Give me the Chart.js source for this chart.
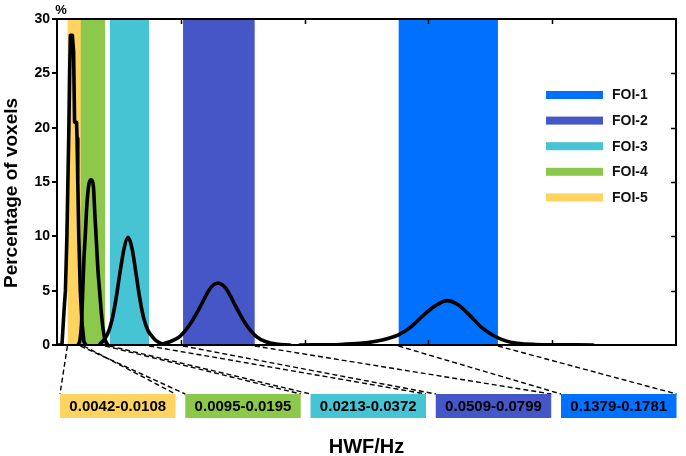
<!DOCTYPE html>
<html><head><meta charset="utf-8">
<script src="https://cdn.jsdelivr.net/npm/chart.js@4.4.0/dist/chart.umd.min.js"></script>
<style>html,body{margin:0;padding:0;background:#fff;}#wrap{width:686px;height:456px;}</style>
</head><body><div id="wrap"><canvas id="c" width="686" height="456"></canvas></div>
<script>
// ---- data ----
const bandLabels = ['FOI-1', 'FOI-2', 'FOI-3', 'FOI-4', 'FOI-5'];
const bandLow  = [0.1379, 0.0509, 0.0213, 0.0095, 0.0042];
const bandHigh = [0.1781, 0.0799, 0.0372, 0.0195, 0.0108];
const bandColors = ['#0070ff', '#4556c6', '#46c4d3', '#8cc84b', '#fed35f'];
const yTickValues = [0, 5, 10, 15, 20, 25, 30];
const xTickValues = [0, 0.05, 0.1, 0.15, 0.2, 0.25];

const foi1X = [0.0981, 0.1143, 0.1224, 0.1288, 0.1337, 0.1377, 0.1426, 0.1478, 0.1527, 0.1575, 0.1620, 0.1668, 0.1716, 0.1761, 0.1809, 0.1858, 0.1931, 0.2165];
const foi1Y = [0, 0.05, 0.15, 0.35, 0.6, 0.9, 1.6, 2.7, 3.6, 4.08, 3.7, 2.7, 1.6, 0.9, 0.4, 0.15, 0.05, 0];
const foi2X = [0.0416, 0.0456, 0.0497, 0.0537, 0.0578, 0.0610, 0.0630, 0.0650, 0.0670, 0.0691, 0.0723, 0.0763, 0.0804, 0.0844, 0.0885, 0.0941];
const foi2Y = [0.05, 0.3, 0.8, 1.9, 3.5, 4.9, 5.5, 5.7, 5.5, 4.9, 3.5, 1.9, 0.8, 0.3, 0.08, 0];
const foi3X = [0.0174, 0.0190, 0.0206, 0.0222, 0.0238, 0.0254, 0.0271, 0.0287, 0.0303, 0.0319, 0.0335, 0.0351, 0.0368, 0.0384, 0.0400, 0.0424, 0.0448];
const foi3Y = [0.1, 0.5, 1.1, 2.3, 4.2, 6.6, 8.9, 9.9, 8.9, 6.6, 4.2, 2.4, 1.3, 0.8, 0.4, 0.1, 0];
const foi4X = [0.0085, 0.0093, 0.0099, 0.0104, 0.0109, 0.0114, 0.0121, 0.0129, 0.0138, 0.0147, 0.0153, 0.0158, 0.0165, 0.0172, 0.0179, 0.0186, 0.0194, 0.0206];
const foi4Y = [0, 0.5, 2, 5, 8, 10, 13, 14.8, 15.2, 14.6, 12, 10, 7, 5, 3, 1.5, 0.5, 0];
const foi5X = [0.0005, 0.0020, 0.0028, 0.0034, 0.0040, 0.0044, 0.0048, 0.0051, 0.0054, 0.0062, 0.0067, 0.0071, 0.0079, 0.0081, 0.0084, 0.0088, 0.0094, 0.0101, 0.0109, 0.0117];
const foi5Y = [0, 0, 3, 5, 10, 15, 20, 25, 28.5, 28.5, 27, 20.5, 20.5, 19, 15, 10, 5, 2, 0.3, 0];

const FONT = '"Liberation Sans", Arial, sans-serif';
const yMax = 30;

function pts(xs, ys) { return xs.map((x, i) => ({ x: x, y: ys[i] })); }

const curveSets = [
  { x: foi1X, y: foi1Y, tension: 0.4 },
  { x: foi2X, y: foi2Y, tension: 0.4 },
  { x: foi3X, y: foi3Y, tension: 0.4 },
  { x: foi4X, y: foi4Y, tension: 0.4 },
  { x: foi5X, y: foi5Y, tension: 0 }
];

const datasets = [];
curveSets.forEach((c, i) => {
  datasets.push({
    label: 'curve-' + bandLabels[i],
    data: pts(c.x, c.y),
    borderColor: '#000',
    borderWidth: 3.6,
    borderJoinStyle: 'round',
    borderCapStyle: 'round',
    pointRadius: 0,
    fill: false,
    tension: c.tension,
    cubicInterpolationMode: c.tension ? 'monotone' : 'default',
    order: 0
  });
});
bandLabels.forEach((lab, i) => {
  datasets.push({
    label: lab,
    data: [{ x: bandLow[i], y: yMax }, { x: bandHigh[i], y: yMax }],
    borderWidth: 0,
    borderColor: bandColors[i],
    backgroundColor: bandColors[i],
    pointRadius: 0,
    fill: 'origin',
    tension: 0,
    order: 1 + i
  });
});

const decor = {
  id: 'decor',
  afterDraw(chart) {
    const ctx = chart.ctx;
    const a = chart.chartArea;
    const xs = chart.scales.x, ys = chart.scales.y;
    ctx.save();
    // frame
    ctx.strokeStyle = '#000';
    ctx.lineWidth = 2;
    ctx.strokeRect(a.left, a.top, a.right - a.left, a.bottom - a.top);
    // inward ticks
    ctx.lineWidth = 1.5;
    ctx.beginPath();
    xTickValues.slice(1, -1).forEach(v => {
      const p = Math.round(xs.getPixelForValue(v)) + 0.5;
      ctx.moveTo(p, a.bottom); ctx.lineTo(p, a.bottom - 5);
      ctx.moveTo(p, a.top); ctx.lineTo(p, a.top + 5);
    });
    yTickValues.slice(1, -1).forEach(v => {
      const p = Math.round(ys.getPixelForValue(v)) + 0.5;
      ctx.moveTo(a.right, p); ctx.lineTo(a.right - 5, p);
    });
    ctx.stroke();

    // legend
    ctx.font = 'bold 14px ' + FONT;
    ctx.textBaseline = 'middle';
    ctx.textAlign = 'left';
    bandLabels.forEach((lab, i) => {
      const cy = 95 + i * 25.6;
      ctx.fillStyle = bandColors[i];
      ctx.fillRect(546, cy - 4, 57, 8);
      ctx.fillStyle = '#111';
      ctx.fillText(lab, 612, cy + 0.5);
    });

    // boxes and dashed connectors (left to right: FOI-5 ... FOI-1)
    const boxTop = 394, boxH = 24, boxW = 115.5;
    for (let k = 0; k < bandLabels.length; k++) {
      const i = bandLabels.length - 1 - k;
      const bx = 60 + k * 125.25;
      const lo = xs.getPixelForValue(bandLow[i]);
      const hi = xs.getPixelForValue(bandHigh[i]);
      ctx.setLineDash([5, 3]);
      ctx.strokeStyle = '#000';
      ctx.lineWidth = 1.4;
      ctx.beginPath();
      ctx.moveTo(lo, a.bottom + 1); ctx.lineTo(bx, boxTop);
      ctx.moveTo(hi, a.bottom + 1); ctx.lineTo(bx + boxW, boxTop);
      ctx.stroke();
      ctx.setLineDash([]);
      ctx.fillStyle = bandColors[i];
      ctx.fillRect(bx, boxTop, boxW, boxH);
      ctx.fillStyle = '#000';
      ctx.font = 'bold 15px ' + FONT;
      ctx.textAlign = 'center';
      ctx.textBaseline = 'middle';
      ctx.fillText(bandLow[i].toFixed(4) + '-' + bandHigh[i].toFixed(4), bx + boxW / 2, boxTop + boxH / 2 + 1);
    }

    // titles
    ctx.fillStyle = '#000';
    ctx.font = 'bold 20px ' + FONT;
    ctx.textAlign = 'center';
    ctx.textBaseline = 'alphabetic';
    ctx.fillText('HWF/Hz', (a.left + a.right) / 2, 453);

    ctx.font = 'bold 13px ' + FONT;
    ctx.fillText('%', 61, 14);

    ctx.save();
    ctx.translate(17, 193);
    ctx.rotate(-Math.PI / 2);
    ctx.font = 'bold 19px ' + FONT;
    ctx.textAlign = 'center';
    ctx.textBaseline = 'alphabetic';
    ctx.fillText('Percentage of voxels', 0, 0);
    ctx.restore();

    ctx.restore();
  }
};

new Chart(document.getElementById('c'), {
  type: 'line',
  data: { datasets: datasets },
  options: {
    responsive: false,
    animation: false,
    devicePixelRatio: 1,
    layout: { padding: { left: 0, top: 19, right: 10, bottom: 111 } },
    plugins: { legend: { display: false }, tooltip: { enabled: false } },
    scales: {
      x: {
        type: 'linear', min: 0, max: 0.25,
        display: false,
        ticks: { stepSize: 0.05 }
      },
      y: {
        type: 'linear', min: 0, max: yMax,
        afterFit(scale) { scale.width = 57; },
        afterBuildTicks(scale) { scale.ticks = yTickValues.map(v => ({ value: v })); },
        ticks: { color: '#000', font: { family: FONT, size: 14, weight: 'bold' }, padding: 2 },
        grid: { drawOnChartArea: false, drawTicks: true, tickLength: 5, color: '#000', lineWidth: 2 },
        border: { display: true, color: '#000', width: 2 }
      }
    }
  },
  plugins: [decor]
});
</script>
</body></html>
